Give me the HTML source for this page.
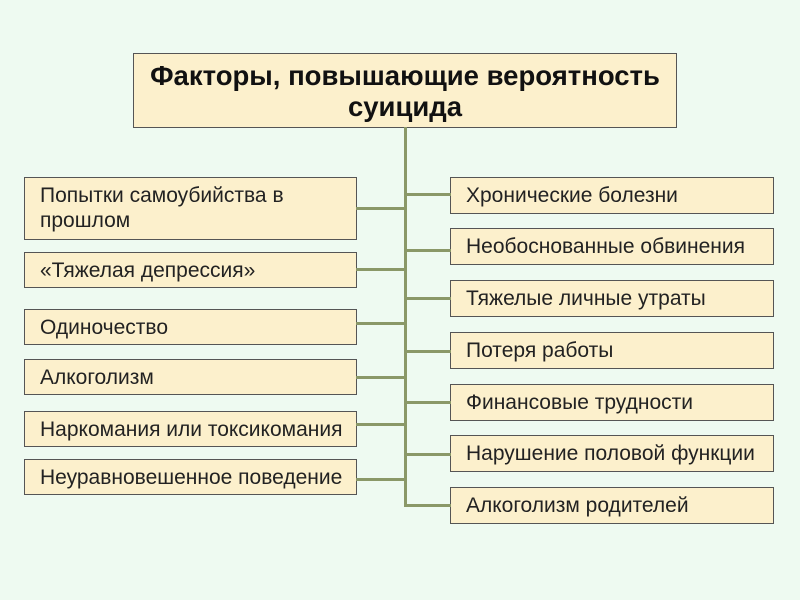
<!DOCTYPE html>
<html><head><meta charset="utf-8"><style>
body{margin:0;width:800px;height:600px;background:#eefaf1;position:relative;overflow:hidden;font-family:"Liberation Sans",sans-serif;}
.b{position:absolute;background:#fcf0cc;border:1.5px solid #555;box-sizing:border-box;font-size:21px;color:#222;padding:0 0 0 15px;line-height:25px;display:flex;align-items:center;white-space:nowrap;}
.l{position:absolute;background:#8a9868;}
</style></head><body>
<div class="b" style="left:133px;top:53px;width:544px;height:75px;justify-content:center;text-align:center;font-weight:bold;font-size:27.5px;line-height:31px;padding:0;color:#111">Факторы, повышающие вероятность<br>суицида</div>
<div class="l" style="left:404px;top:127px;width:3px;height:380px"></div>
<div class="b" style="left:24px;top:177px;width:333px;height:63px;align-items:flex-start;padding-top:5px">Попытки самоубийства в<br>прошлом</div>
<div class="l" style="left:356px;top:207px;width:49px;height:3px"></div>
<div class="b" style="left:24px;top:252px;width:333px;height:36px">«Тяжелая депрессия»</div>
<div class="l" style="left:356px;top:268px;width:49px;height:3px"></div>
<div class="b" style="left:24px;top:309px;width:333px;height:36px">Одиночество</div>
<div class="l" style="left:356px;top:322px;width:49px;height:3px"></div>
<div class="b" style="left:24px;top:359px;width:333px;height:36px">Алкоголизм</div>
<div class="l" style="left:356px;top:376px;width:49px;height:3px"></div>
<div class="b" style="left:24px;top:411px;width:333px;height:36px">Наркомания или токсикомания</div>
<div class="l" style="left:356px;top:423px;width:49px;height:3px"></div>
<div class="b" style="left:24px;top:459px;width:333px;height:36px">Неуравновешенное поведение</div>
<div class="l" style="left:356px;top:478px;width:49px;height:3px"></div>

<div class="b" style="left:450px;top:177px;width:324px;height:37px">Хронические болезни</div>
<div class="l" style="left:405px;top:193px;width:46px;height:3px"></div>
<div class="b" style="left:450px;top:228px;width:324px;height:37px">Необоснованные обвинения</div>
<div class="l" style="left:405px;top:249px;width:46px;height:3px"></div>
<div class="b" style="left:450px;top:280px;width:324px;height:37px">Тяжелые личные утраты</div>
<div class="l" style="left:405px;top:297px;width:46px;height:3px"></div>
<div class="b" style="left:450px;top:332px;width:324px;height:37px">Потеря работы</div>
<div class="l" style="left:405px;top:350px;width:46px;height:3px"></div>
<div class="b" style="left:450px;top:384px;width:324px;height:37px">Финансовые трудности</div>
<div class="l" style="left:405px;top:401px;width:46px;height:3px"></div>
<div class="b" style="left:450px;top:435px;width:324px;height:37px">Нарушение половой функции</div>
<div class="l" style="left:405px;top:453px;width:46px;height:3px"></div>
<div class="b" style="left:450px;top:487px;width:324px;height:37px">Алкоголизм родителей</div>
<div class="l" style="left:405px;top:504px;width:46px;height:3px"></div>
</body></html>
